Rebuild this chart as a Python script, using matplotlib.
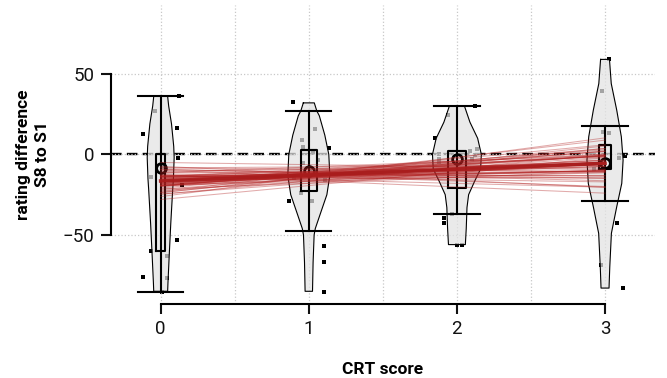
import numpy as np
import matplotlib
matplotlib.use('Agg')
import matplotlib.pyplot as plt
from matplotlib.ticker import MultipleLocator

plt.rcParams['font.family'] = ['Roboto', 'DejaVu Sans']

# CRT groups
crt = [0, 1, 2, 3]

# Violin profiles (rating difference, half width in x units)
viol_y = [
    [36, 30, 19, 5, -2, -15, -22, -43, -64, -80, -85],
    [32, 27, 24, 12, 0, -13, -25, -36, -46, -50, -67, -85],
    [30, 20, 10, 0, -9, -17, -25, -33, -46, -56],
    [59, 44, 27.5, 11, -3.5, -18, -32.5, -49, -70, -83],
]
viol_w = [
    [0.047, 0.054, 0.073, 0.088, 0.091, 0.086, 0.081, 0.068, 0.057, 0.049, 0.047],
    [0.037, 0.054, 0.071, 0.108, 0.135, 0.142, 0.122, 0.081, 0.044, 0.036, 0.029, 0.025],
    [0.051, 0.088, 0.140, 0.165, 0.160, 0.118, 0.079, 0.068, 0.063, 0.057],
    [0.030, 0.042, 0.079, 0.110, 0.122, 0.113, 0.079, 0.043, 0.032, 0.027],
]

# Box statistics
q1 = [-60.2, -22.8, -20.7, -9.3]
q3 = [0.0, 2.7, 2.0, 5.8]
whis_lo = [-85.3, -47.6, -36.9, -28.8]
whis_hi = [36.2, 27.0, 30.0, 17.6]
means = [-8.7, -10.4, -3.1, -5.6]

# Jittered raw points: (x offset from group, rating difference)
pts_dx = [
    [-0.038, -0.12, 0.108, 0.115, -0.068, 0.146, 0.108, -0.068, 0.045, 0.04, -0.12, 0.01, 0.126, 0.02],
    [-0.11, 0.04, -0.045, -0.038, 0.138, 0.063, -0.04, -0.1, 0.108, -0.05, -0.135, 0.023, 0.1, 0.1, 0.1, 0.01, 0.03],
    [-0.057, -0.151, -0.124, -0.12, -0.12, 0.085, 0.135, 0.12, 0.1, -0.03, -0.09, -0.086, 0.0, 0.034, 0.12],
    [0.027, -0.022, -0.016, 0.03, 0.097, 0.135, -0.072, 0.079, -0.029, 0.119],
]
pts_y = [
    [27, 12.4, 16.1, -2.5, -14.3, -19, -53, -60, -63, -77, -76.4, -85.7, 36.2, -8],
    [32.3, 15.7, 8.9, 4.7, 3.7, -3.5, -5.6, -14.9, -16, -24.2, -28.8, -29, -56.8, -66.7, -85.3, -9, 1],
    [24.4, 9.9, 0, -3, -5, 2, 3.3, -0.4, -3, -36.7, -39.4, -42.5, -56.3, -56.3, 30],
    [59, 39.5, 13.9, 13, -2.5, -1, -9.3, -42.5, -68.8, -83.2],
]

# Posterior regression lines: intercept at CRT=0 and slope
draw_a = [-16.5, -17.9, -15.1, -13.3, -19.7, -20.8, -12.2, -17.1, -15.9, -11.4,
          -21.6, -23.7, -9.3, -13.7, -19.3, -20.0, -13.0, -16.1, -16.9, -14.2,
          -18.8, -10.6, -22.4, -23.1, -9.9, -19.3, -13.7, -15.7, -17.2, -14.7,
          -18.2, -11.5, -21.5, -19.5, -13.5, -8.3, -24.7, -16.4, -16.5, -17.0,
          -15.9, -9.3, -23.7, -14.0, -19.0, -18.2, -14.7, -14.7, -18.2, -17.7,
          -15.3, -19.3, -13.7, -8.4, -24.6, -14.3, -18.7, -19.7, -13.3, -17.0,
          -26.2, -7.4, -28.0, -5.0, -13.3, -12.5]
draw_b = [3.65, 5.65, 1.65, 2.65, 4.65, 7.65, -0.35, 6.65, 0.65, 0.65,
          6.65, 9.65, -2.35, 4.65, 2.65, 8.65, -1.35, 4.15, 3.15, 2.15,
          5.15, 1.65, 5.65, 10.65, -3.35, 6.15, 1.15, 4.85, 2.45, 2.85,
          4.45, 3.65, 3.65, 7.15, 0.15, -0.85, 8.15, 3.85, 3.45, 5.45,
          1.85, -1.85, 9.15, 4.25, 3.05, 5.85, 1.45, 3.35, 3.95, 4.65,
          2.65, 7.65, -0.35, 0.65, 6.65, 2.65, 4.65, 6.65, 0.65, 6.25,
          12.15, -4.35, 8.65, -1.35, -2.35, -3.85]
mean_a = -16.5
mean_b = 3.65

box_widths = [0.063, 0.104, 0.124, 0.084]

fig = plt.figure(figsize=(6.67, 3.78), dpi=100)
ax = fig.add_axes([0.1663, 0.197, 0.8154, 0.789])

# grid
ax.xaxis.set_minor_locator(MultipleLocator(0.5))
ax.grid(True, which='both', axis='x', color='#c8c8c8', linestyle=':', linewidth=0.9, zorder=0)
ax.grid(True, which='major', axis='y', color='#c8c8c8', linestyle=':', linewidth=0.9, zorder=0)
ax.axhline(0, color='black', linestyle=(0, (4.5, 2.2)), linewidth=1.7, zorder=1)

# raw points (drawn under the violins)
for i, g in enumerate(crt):
    ax.plot(g + np.array(pts_dx[i]), pts_y[i], 's', color='black', markersize=2.2,
            markeredgewidth=0, zorder=1.5)

# violins
for i, g in enumerate(crt):
    y = np.array(viol_y[i])
    w = np.array(viol_w[i])
    ax.fill_betweenx(y, g - w, g + w, facecolor='#e3e3e3', alpha=0.72, edgecolor='none', zorder=2)
    xs = np.concatenate([g - w, (g + w)[::-1], [(g - w)[0]]])
    ys = np.concatenate([y, y[::-1], [y[0]]])
    ax.plot(xs, ys, color='black', linewidth=0.8, zorder=2.1)

# boxes
stats = []
for i in range(4):
    stats.append(dict(med=q3[i], q1=q1[i], q3=q3[i], whislo=whis_lo[i], whishi=whis_hi[i],
                      mean=means[i]))
ax.bxp(stats, positions=crt, widths=box_widths, capwidths=0.305, showmeans=True,
       showfliers=False, manage_ticks=False,
       boxprops=dict(color='black', linewidth=1.5),
       whiskerprops=dict(color='black', linewidth=1.5),
       capprops=dict(color='black', linewidth=1.5),
       medianprops=dict(color='black', linewidth=1.5),
       meanprops=dict(marker='o', markerfacecolor='none', markeredgecolor='black',
                      markersize=7, markeredgewidth=2),
       zorder=3)
ax.vlines(crt, q1, q3, color='black', linewidth=1.5, zorder=3)

# posterior regression lines
xl = np.array([0, 3])
for a, b in zip(draw_a, draw_b):
    ax.plot(xl, a + b * xl, color='#b22222', alpha=0.38, linewidth=0.75, zorder=4)
ax.plot(xl, mean_a + mean_b * xl, color='#a81c1c', alpha=0.9, linewidth=2.6, zorder=4.5)

ax.set_xlim(-0.336, 3.336)
ax.set_ylim(-92.6, 92.6)
ax.set_xticks(crt)
ax.set_yticks([-50, 0, 50])
ax.set_yticklabels(['\u221250', '0', '50'])
ax.tick_params(axis='both', which='major', length=7, width=1.5, labelsize=13.5, pad=5,
               colors='#111111')
ax.tick_params(axis='x', which='minor', length=0)

for s in ['top', 'right']:
    ax.spines[s].set_visible(False)
ax.spines['left'].set_bounds(-50, 50)
ax.spines['bottom'].set_bounds(0, 3)
ax.spines['left'].set_linewidth(1.5)
ax.spines['bottom'].set_linewidth(1.5)

ax.set_xlabel('CRT score', fontweight='bold', fontsize=12.5)
ax.xaxis.set_label_coords(0.5, -0.197)
ax.set_ylabel('rating difference\nS8 to S1', fontweight='bold', fontsize=12.5, linespacing=1.3)
ax.yaxis.set_label_coords(-0.112, 0.5)

plt.savefig('out.png', dpi=100)
